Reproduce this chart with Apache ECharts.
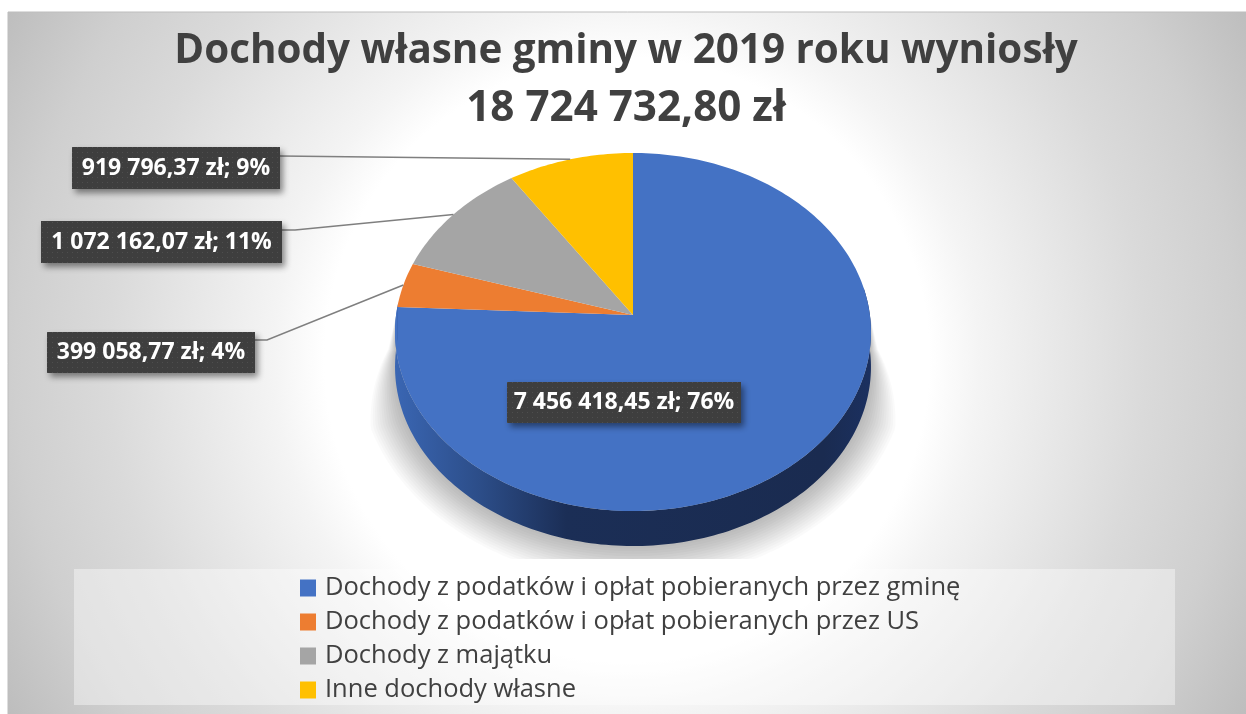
<!DOCTYPE html>
<html>
<head>
<meta charset="utf-8">
<title>Dochody własne gminy</title>
<style>
  html, body { margin: 0; padding: 0; background: #fff; }
  #chart { width: 1246px; height: 714px; }
</style>
<script src="https://cdn.jsdelivr.net/npm/echarts@6/dist/echarts.min.js"></script>
</head>
<body>
<div id="chart"></div>
<script>
// Data
var categories = [
    'Dochody z podatków i opłat pobieranych przez gminę',
    'Dochody z podatków i opłat pobieranych przez US',
    'Dochody z majątku',
    'Inne dochody własne'
];
var values = [7456418.45, 399058.77, 1072162.07, 919796.37];
var titleLines = ['Dochody własne gminy w 2019 roku wyniosły', '18 724 732,80 zł'];

// Colors
var sliceColors = ['#4472C4', '#ED7D31', '#A5A5A5', '#FFC000'];
var fontName = '"Open Sans", sans-serif';

// Data label boxes: x, y, width, height (no leader line on the first one)
var labelBoxes = [
    [507, 382, 234, 41],
    [47, 332, 208, 41],
    [41, 221, 241, 42],
    [72, 147, 208, 42]
];
// Where the leader line leaves the box
var leaderStarts = [null, [[255, 340], [267, 340]], [[282, 230], [295, 230]], [[280, 156]]];

// Pie projection (tilted disc seen in perspective)
var apex = [633, 315];
var scaleX = 236.9;
var scaleY = 177.4;
var tilt = -0.095;
var wallDepth = 35;

var total = values.reduce(function (a, b) { return a + b; }, 0);

var startAngle = function (index) {
    var sum = 0;
    for (var i = 0; i < index; i++) {
        sum += values[i];
    }
    return sum / total * Math.PI * 2;
};

// Point on the projected disc, angle clockwise from 12 o'clock
var project = function (angle, radius) {
    var px = Math.sin(angle) * radius;
    var py = -Math.cos(angle) * radius;
    var d = 1 + tilt * py;
    return [apex[0] + scaleX * px / d, apex[1] + scaleY * py / d];
};

var rim = function (from, to, shift) {
    var points = [];
    var steps = Math.max(2, Math.ceil((to - from) / 0.02));
    for (var i = 0; i <= steps; i++) {
        var p = project(from + (to - from) * i / steps, 1);
        points.push([p[0], p[1] + shift]);
    }
    return points;
};

var formatLabel = function (value) {
    var parts = value.toFixed(2).split('.');
    var whole = parts[0].replace(/\B(?=(\d{3})+$)/g, ' ');
    return whole + ',' + parts[1] + ' zł; ' + Math.round(value / total * 100) + '%';
};

// Dark dotted fill of the data labels
var dotted = document.createElement('canvas');
dotted.width = 5;
dotted.height = 5;
var dottedCtx = dotted.getContext('2d');
dottedCtx.fillStyle = '#3e3e3e';
dottedCtx.fillRect(0, 0, 5, 5);
dottedCtx.fillStyle = '#4e4e4e';
dottedCtx.fillRect(2, 2, 1, 1);

// Shadow under the disc: nested translucent outlines, cut off flat at the bottom
var shadowLayers = function () {
    var layers = [];
    var count = 14;
    for (var i = count; i >= 1; i--) {
        var spread = 36 * i / count;
        var outline = rim(Math.PI * 0.5, Math.PI * 1.5, wallDepth).map(function (p) {
            var dx = p[0] - apex[0];
            var dy = p[1] - (apex[1] + 52);
            var len = Math.sqrt(dx * dx + dy * dy) || 1;
            var grow = spread * Math.min(1, (p[1] - 330) / 90);
            return [p[0] + dx / len * grow, p[1] + dy / len * grow];
        });
        outline.unshift(project(Math.PI * 0.5, 1));
        outline.push(project(Math.PI * 1.5, 1));
        layers.push({
            type: 'polygon',
            shape: { points: outline },
            style: { fill: 'rgba(0,0,0,0.018)' },
            clipPath: { type: 'rect', shape: { x: 340, y: 300, width: 580, height: 259 } }
        });
    }
    return layers;
};

var renderSlice = function (index) {
    return function (params, api) {
        var value = api.value(0);
        var from = startAngle(index);
        var to = from + value / total * Math.PI * 2;
        var children = [];

        if (index === 0) {
            children = children.concat(shadowLayers());
        }

        // Side wall, only the part facing the viewer
        var wallFrom = Math.max(from, Math.PI * 0.45);
        var wallTo = Math.min(to, Math.PI * 1.52);
        if (wallTo > wallFrom) {
            var top = rim(wallFrom, wallTo, 0);
            var bottom = rim(wallFrom, wallTo, wallDepth).reverse();
            children.push({
                type: 'polygon',
                shape: { points: top.concat(bottom) },
                style: {
                    fill: {
                        type: 'linear', x: 395, y: 0, x2: 871, y2: 0, global: true,
                        colorStops: [
                            { offset: 0, color: '#3a66b3' },
                            { offset: 0.18, color: '#2c4d88' },
                            { offset: 0.36, color: '#1b2e56' },
                            { offset: 0.9, color: '#1a2b50' },
                            { offset: 1, color: '#1b3060' }
                        ]
                    }
                }
            });
        }

        // Top face
        children.push({
            type: 'polygon',
            shape: { points: [apex].concat(rim(from, to, 0)) },
            style: { fill: sliceColors[index] }
        });

        // Leader line
        if (leaderStarts[index]) {
            children.push({
                type: 'polyline',
                shape: { points: leaderStarts[index].concat([project((from + to) / 2, 1)]) },
                style: { fill: null, stroke: '#7f7f7f', lineWidth: 1.5 }
            });
        }

        // Data label
        var box = labelBoxes[index];
        children.push({
            type: 'rect',
            shape: { x: box[0], y: box[1], width: box[2], height: box[3] },
            style: {
                fill: { image: dotted, repeat: 'repeat' },
                shadowBlur: 6,
                shadowOffsetX: 3,
                shadowOffsetY: 4,
                shadowColor: 'rgba(0,0,0,0.45)'
            }
        });
        children.push({
            type: 'text',
            style: {
                x: box[0] + box[2] / 2,
                y: box[1] + box[3] / 2,
                text: formatLabel(value),
                fill: '#fff',
                font: 'bold 23px ' + fontName,
                align: 'center',
                verticalAlign: 'middle'
            }
        });

        return { type: 'group', children: children };
    };
};

var series = categories.map(function (name, i) {
    return {
        name: name,
        type: 'custom',
        coordinateSystem: 'none',
        silent: true,
        animation: false,
        itemStyle: { color: sliceColors[i] },
        renderItem: renderSlice(i),
        data: [[values[i]]]
    };
});

var chart = echarts.init(document.getElementById('chart'), null, { renderer: 'canvas' });

chart.setOption({
    animation: false,
    backgroundColor: '#fff',

    // Chart area background and legend panel
    graphic: [
        {
            type: 'rect',
            z: -2,
            shape: { x: 8, y: 12, width: 1240, height: 704 },
            style: {
                stroke: '#bdbdbd',
                lineWidth: 1,
                fill: {
                    type: 'radial', x: 627, y: 360, r: 720, global: true,
                    colorStops: [
                        { offset: 0, color: '#ffffff' },
                        { offset: 0.42, color: '#ffffff' },
                        { offset: 0.49, color: '#f4f4f4' },
                        { offset: 0.72, color: '#dadada' },
                        { offset: 0.85, color: '#cfcfcf' },
                        { offset: 1, color: '#bcbcbc' }
                    ]
                }
            }
        },
        {
            type: 'rect',
            z: -1,
            shape: { x: 74, y: 569, width: 1101, height: 136 },
            style: { fill: 'rgba(255,255,255,0.4)' }
        }
    ],

    title: {
        text: '{a|' + titleLines[0] + '}\n{b|' + titleLines[1] + '}',
        left: 621,
        top: 18,
        textAlign: 'center',
        textStyle: {
            rich: {
                a: { fontFamily: fontName, fontSize: 40.4, fontWeight: 'bold', lineHeight: 57, color: '#404040' },
                b: { fontFamily: fontName, fontSize: 42.2, fontWeight: 'bold', lineHeight: 57, color: '#404040' }
            }
        }
    },

    legend: {
        data: categories,
        orient: 'vertical',
        left: 300,
        top: 575,
        padding: 0,
        itemWidth: 16,
        itemHeight: 17,
        itemGap: 8,
        icon: 'rect',
        selectedMode: false,
        textStyle: {
            fontFamily: fontName,
            fontSize: 25.5,
            lineHeight: 26,
            padding: [0, 0, 0, 4],
            color: '#404040'
        }
    },

    series: series
});
</script>
</body>
</html>
